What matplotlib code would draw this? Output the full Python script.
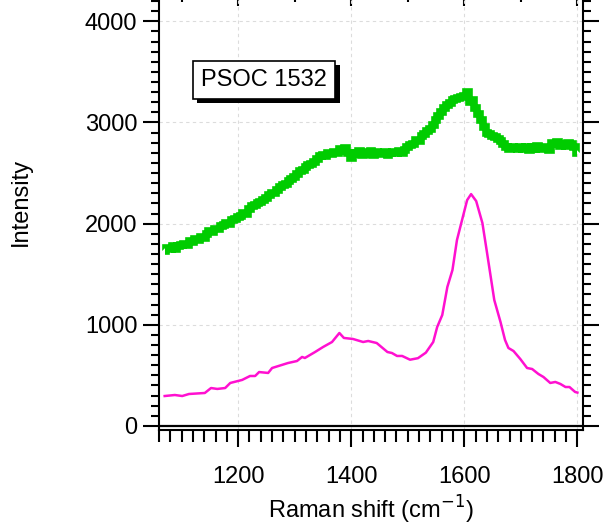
import matplotlib
matplotlib.use("Agg")
import numpy as np
from matplotlib import pyplot as plt
from matplotlib import ticker
from matplotlib import patheffects as pe

# green spectrum (upper, noisy), sampled every 5 cm-1 from 1070 to 1800
green_x = np.arange(1070, 1805, 5)
green_y = [1730, 1760, 1745, 1775, 1750, 1780, 1785, 1800, 1790, 1825,
           1815, 1845, 1840, 1870, 1860, 1900, 1925, 1920, 1945, 1950,
           1975, 1985, 2010, 2000, 2040, 2045, 2065, 2080, 2110, 2100,
           2145, 2175, 2185, 2200, 2215, 2235, 2255, 2280, 2300, 2305,
           2335, 2360, 2380, 2390, 2420, 2440, 2460, 2490, 2525, 2530,
           2560, 2575, 2590, 2610, 2640, 2665, 2680, 2670, 2700, 2690,
           2710, 2700, 2740, 2720, 2750, 2700, 2650, 2700, 2690, 2720,
           2680, 2710, 2690, 2720, 2680, 2710, 2700, 2690, 2710, 2680,
           2700, 2710, 2700, 2720, 2700, 2730, 2760, 2780, 2790, 2830,
           2820, 2870, 2890, 2920, 2940, 2980, 3020, 3060, 3100, 3140,
           3170, 3190, 3220, 3230, 3240, 3250, 3265, 3300, 3200, 3220,
           3140, 3080, 3020, 2960, 2900, 2890, 2870, 2860, 2840, 2820,
           2790, 2760, 2740, 2760, 2750, 2740, 2760, 2740, 2760, 2730,
           2760, 2740, 2770, 2740, 2750, 2760, 2730, 2800, 2790, 2810,
           2770, 2790, 2770, 2800, 2790, 2760, 2700]

# magenta spectrum (lower)
pink_x = [1070, 1088, 1101, 1113, 1141, 1152, 1163, 1177, 1186, 1207,
          1221, 1230, 1237, 1253, 1260, 1288, 1304, 1313, 1318, 1336,
          1350, 1366, 1379, 1387, 1403, 1421, 1430, 1445, 1464, 1472,
          1481, 1490, 1504, 1518, 1532, 1545, 1552, 1561, 1570, 1579,
          1587, 1596, 1605, 1612, 1621, 1632, 1640, 1653, 1664, 1672,
          1678, 1687, 1699, 1711, 1720, 1731, 1740, 1752, 1761, 1770,
          1779, 1786, 1796, 1800]
pink_y = [296, 306, 296, 316, 326, 375, 366, 375, 425, 455,
          494, 494, 533, 524, 573, 622, 642, 682, 672, 731,
          780, 830, 919, 870, 860, 830, 840, 820, 731, 721,
          692, 692, 655, 670, 725, 830, 978, 1097, 1374, 1541,
          1838, 2036, 2233, 2292, 2223, 2006, 1719, 1245, 1028, 850,
          771, 741, 662, 573, 563, 514, 484, 425, 435, 415,
          385, 385, 336, 330]

plt.rcParams['font.family'] = ['Liberation Sans', 'DejaVu Sans']

fig = plt.figure(figsize=(6.1, 5.26), dpi=100)
ax = fig.add_axes([0.2607, 0.1825, 0.6951, 0.8327])

ax.plot(green_x, green_y, color='#00cc00', lw=5.5, drawstyle='steps-mid',
        solid_joinstyle='miter', solid_capstyle='butt')
ax.plot(pink_x, pink_y, color='#ff10d0', lw=1.8)
ax.axhline(0, color='black', lw=1.6, zorder=3)

ax.set_xlim(1060, 1810)
ax.set_ylim(-40, 4290)

ax.xaxis.set_major_locator(ticker.MultipleLocator(200))
ax.xaxis.set_minor_locator(ticker.MultipleLocator(20))
ax.yaxis.set_major_locator(ticker.MultipleLocator(1000))
ax.yaxis.set_minor_locator(ticker.MultipleLocator(100))

ax.grid(True, which='major', color='#dcdcdc', ls=(0, (3, 3)), lw=0.8)
ax.set_axisbelow(True)

for s in ax.spines.values():
    s.set_linewidth(1.5)

ax.tick_params(which='both', direction='out', width=1.5, top=False, right=True,
               labelsize=17, colors='black')
ax.tick_params(which='major', length=11.5, pad=4)
ax.tick_params(axis='x', which='major', length=12, pad=14)
ax.tick_params(axis='y', which='minor', length=6)
ax.tick_params(axis='x', which='minor', length=8.5)

top = ax.secondary_xaxis('top')
top.xaxis.set_major_locator(ticker.MultipleLocator(200))
top.xaxis.set_minor_locator(ticker.MultipleLocator(100))
top.tick_params(which='both', direction='in', width=1.5, labeltop=False)
top.tick_params(which='major', length=10)
top.tick_params(which='minor', length=7)

ax.set_xlabel('Raman shift (cm$^{-1}$)', fontsize=17, labelpad=4)
ax.set_ylabel('Intensity', fontsize=17)
ax.yaxis.set_label_coords(-0.30, 0.52)

box = ax.text(1246, 3420, 'PSOC 1532', fontsize=17, ha='center', va='center', color='black',
              bbox=dict(boxstyle='square,pad=0.35', fc='white', ec='black', lw=1.2))
box.get_bbox_patch().set_path_effects([
    pe.SimplePatchShadow(offset=(3, -3), shadow_rgbFace='black', alpha=1.0),
    pe.Normal()])

fig.savefig('out.png', dpi=100)
